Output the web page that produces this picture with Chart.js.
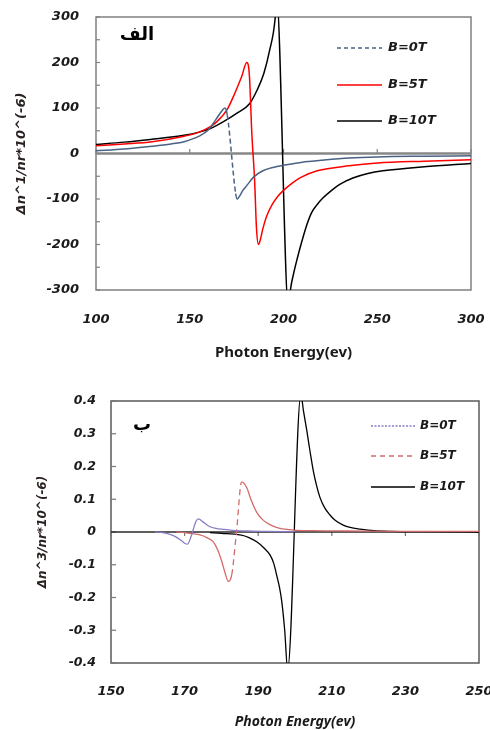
<!DOCTYPE html>
<html><head><meta charset="utf-8">
<script src="https://cdn.jsdelivr.net/npm/chart.js@4.4.0/dist/chart.umd.min.js"></script>
<style>
html,body{margin:0;padding:0;background:#fff;width:490px;height:730px;overflow:hidden}
#c1{position:absolute;left:0;top:0;width:490px;height:370px}
#c2{position:absolute;left:0;top:370px;width:490px;height:360px}
</style></head><body>
<canvas id="c1" width="490" height="370"></canvas>
<canvas id="c2" width="490" height="360"></canvas>
<script>
// ---------- data: top chart (الف) ----------
const topXTicks = [100, 150, 200, 250, 300];
const topYTicks = [-300, -200, -100, 0, 100, 200, 300];
const topYMinor = [-300, -250, -200, -150, -100, -50, 0, 50, 100, 150, 200, 250, 300];
const topLabels = ['B=0T', 'B=5T', 'B=10T'];

const topE0 = [100,115,130,140,147,155,160,164,167,168.8,170,174.5,175.3,176.5,178.5,180.5,184,189,195,200,210,220,235,250,275,300];
const topV0 = [6,10,16,21,26,38,52,75,93,100,85,-88,-100,-94,-80,-70,-52,-38,-30,-26,-19,-15,-10,-7.5,-6,-5];

const topE5 = [100,115,130,147,155,161,164.5,170,174,177.7,180.4,181.8,183.1,184.6,185.6,186.6,187.6,189,191,194,197,200,205,209,218,235,250,275,300];
const topV5 = [17,21,26,38,47,59,70,97,132,169,200,172,45,-60,-165,-200,-190,-165,-138,-112,-94,-81,-64,-53,-38,-27,-21,-17,-14];

const topE10 = [100,115,129,147,155,161,168,175,182,186,189.5,192.5,195.5,196.3,202.7,203.7,205.5,207.5,210,212.5,215,218,221,226,230,237,245,253,275,300];
const topV10 = [20,25,31,40,47,55,70,88,110,140,176,225,295,345,-345,-300,-262,-228,-190,-156,-130,-112,-98,-80,-68,-54,-44,-38,-29,-22];

// ---------- data: bottom chart (ب) ----------
const botXTicks = [150, 170, 190, 210, 230, 250];
const botYTicks = [-0.4, -0.3, -0.2, -0.1, 0, 0.1, 0.2, 0.3, 0.4];
const botLabels = ['B=0T', 'B=5T', 'B=10T'];

const botE0 = [162,164,166,167.5,169,170.1,170.8,171.8,173.1,173.8,175,176.9,178.5,180.5,183,187,192,200];
const botV0 = [0,-0.002,-0.007,-0.014,-0.025,-0.035,-0.037,-0.012,0.033,0.040,0.031,0.016,0.011,0.008,0.005,0.003,0.002,0.001];

const botE5 = [167.8,170,172,174.2,176,177.8,179,180.1,181,181.9,182.8,184.1,185.5,186.9,188,189.6,191,192.3,194,195.9,199.5,205,215,230,250];
const botV5 = [0,-0.002,-0.005,-0.009,-0.017,-0.03,-0.055,-0.09,-0.125,-0.151,-0.131,0,0.153,0.135,0.1,0.06,0.04,0.028,0.018,0.011,0.006,0.004,0.003,0.002,0.002];

const botE10 = [176.9,180,185.1,187.5,189.6,191.5,193.2,194.2,195,195.8,196.4,197.2,198,201.6,202.3,203.2,204.1,205,205.9,206.8,208,209.5,211,213.1,215,217.7,221.5,226,235,250];
const botV10 = [-0.002,-0.004,-0.009,-0.017,-0.03,-0.048,-0.07,-0.095,-0.131,-0.17,-0.212,-0.3,-0.42,0.42,0.37,0.31,0.245,0.185,0.14,0.105,0.075,0.052,0.035,0.021,0.014,0.009,0.004,0.002,0.001,0];

// ---------- helpers ----------
const pts = (E, V) => E.map((e, i) => ({x: e, y: V[i]}));
const dashSteep = (pattern, thr) => ctx => (Math.abs(ctx.p1.y - ctx.p0.y) > thr ? pattern : undefined);
const TXT = '#1a1a1a';
const tickFont = (s) => ({family: 'DejaVu Sans', size: s, weight: 'bold', style: 'italic'});

const deco = {
  id: 'deco',
  beforeDatasetsDraw(chart, args, o) {
    const {ctx, chartArea: a, scales: {x, y}} = chart;
    ctx.save();
    const y0 = y.getPixelForValue(0);
    ctx.strokeStyle = o.frameColor; ctx.lineWidth = o.frameWidth;
    ctx.strokeRect(a.left, a.top, a.right - a.left, a.bottom - a.top);
    ctx.strokeStyle = o.tickColor; ctx.lineWidth = 1.2;
    o.yMarks.forEach(v => {
      const py = y.getPixelForValue(v);
      ctx.beginPath(); ctx.moveTo(a.left, py); ctx.lineTo(a.left + o.yTickLen, py); ctx.stroke();
    });
    x.ticks.forEach(t => {
      const px = x.getPixelForValue(t.value);
      ctx.beginPath(); ctx.moveTo(px, y0); ctx.lineTo(px, y0 + o.xTickDir * o.xTickLen); ctx.stroke();
    });
    ctx.strokeStyle = o.zeroColor; ctx.lineWidth = o.zeroWidth;
    ctx.beginPath(); ctx.moveTo(a.left, y0); ctx.lineTo(a.right, y0); ctx.stroke();
    ctx.restore();
  },
  afterDatasetsDraw(chart, args, o) {
    const {ctx} = chart;
    ctx.save();
    chart.data.datasets.forEach((ds, i) => {
      const yy = o.legendY[i];
      ctx.strokeStyle = ds.borderColor; ctx.lineWidth = ds.borderWidth;
      ctx.setLineDash(ds.legendDash || []);
      ctx.beginPath(); ctx.moveTo(o.legendX1, yy); ctx.lineTo(o.legendX2, yy); ctx.stroke();
      ctx.setLineDash([]);
      ctx.fillStyle = TXT; ctx.font = o.legendFont;
      ctx.textAlign = 'left'; ctx.textBaseline = 'middle';
      ctx.fillText(ds.label, o.legendTextX, yy);
    });
    ctx.fillStyle = '#000'; ctx.font = o.noteFont;
    ctx.textAlign = 'center'; ctx.textBaseline = 'middle';
    ctx.fillText(o.note, o.noteX, o.noteY);
    ctx.restore();
  }
};

function makeChart(id, cfg) {
  return new Chart(document.getElementById(id), {
    type: 'line',
    data: {datasets: cfg.datasets},
    plugins: [deco],
    options: {
      responsive: false, animation: false, devicePixelRatio: 1,
      layout: {padding: cfg.padding},
      elements: {point: {radius: 0, hoverRadius: 0}, line: {cubicInterpolationMode: 'monotone', fill: false}},
      plugins: {legend: {display: false}, tooltip: {enabled: false}, deco: cfg.deco},
      scales: {
        x: {
          type: 'linear', min: cfg.xMin, max: cfg.xMax,
          afterBuildTicks: s => { s.ticks = cfg.xTicks.map(v => ({value: v})); },
          grid: {display: false, drawTicks: false}, border: {display: false},
          ticks: {padding: cfg.xPad, color: TXT, font: tickFont(cfg.xFont), maxRotation: 0, autoSkip: false},
          title: {display: true, text: 'Photon Energy(ev)', color: TXT, font: cfg.xTitleFont, padding: {top: 0, bottom: cfg.xTitlePad}},
          afterFit: s => { s.height = cfg.xHeight; s.paddingLeft = 0; s.paddingRight = 0; }
        },
        y: {
          type: 'linear', min: cfg.yMin, max: cfg.yMax,
          afterBuildTicks: s => { s.ticks = cfg.yTicks.map(v => ({value: v})); },
          grid: {display: false, drawTicks: false}, border: {display: false},
          ticks: {padding: cfg.yPad, color: TXT, font: tickFont(cfg.yFont), autoSkip: false},
          title: {display: true, text: cfg.yTitle, color: '#2a2220', font: {family: 'DejaVu Sans', size: cfg.yTitleSize, weight: 'bold', style: 'italic'}, padding: {top: cfg.yTitlePad, bottom: 0}},
          afterFit: s => { s.width = cfg.yWidth; s.paddingTop = 0; s.paddingBottom = 0; }
        }
      }
    }
  });
}

makeChart('c1', {
  xMin: 100, xMax: 300, yMin: -300, yMax: 300, xTicks: topXTicks, yTicks: topYTicks,
  padding: {top: 17, right: 19, left: 0, bottom: 0},
  xHeight: 80, yWidth: 96, xPad: 22, yPad: 17, xFont: 13, yFont: 13,
  xTitleFont: {family: 'Noto Sans', size: 15, weight: 'bold'}, xTitlePad: 8,
  yTitle: 'Δn^1/nr*10^(-6)', yTitleSize: 13, yTitlePad: 14,
  deco: {frameColor: '#808080', frameWidth: 1.5, tickColor: '#808080', yMarks: topYMinor, yTickLen: 4,
         xTickDir: -1, xTickLen: 4.5, zeroColor: '#878787', zeroWidth: 2.5,
         legendY: [48, 85, 121], legendX1: 337, legendX2: 382, legendTextX: 388,
         legendFont: 'italic bold 13px "DejaVu Sans"', note: 'الف', noteX: 137, noteY: 35,
         noteFont: 'bold 18px "DejaVu Sans"'},
  datasets: [
    {label: topLabels[0], data: pts(topE0, topV0), borderColor: '#4a6184', borderWidth: 1.5, legendDash: [4, 3],
     segment: {borderDash: dashSteep([5, 3], 25)}},
    {label: topLabels[1], data: pts(topE5, topV5), borderColor: '#ff0000', borderWidth: 1.5},
    {label: topLabels[2], data: pts(topE10, topV10), borderColor: '#000000', borderWidth: 1.5}
  ]
});

makeChart('c2', {
  xMin: 150, xMax: 250, yMin: -0.4, yMax: 0.4, xTicks: botXTicks, yTicks: botYTicks,
  padding: {top: 31, right: 11, left: 0, bottom: 0},
  xHeight: 67, yWidth: 111, xPad: 21, yPad: 15, xFont: 13, yFont: 12.5,
  xTitleFont: {family: 'Noto Sans', size: 14, weight: 'bold', style: 'italic'}, xTitlePad: 0,
  yTitle: 'Δn^3/nr*10^(-6)', yTitleSize: 12, yTitlePad: 36,
  deco: {frameColor: '#5a5a5a', frameWidth: 1.5, tickColor: '#777777', yMarks: botYTicks, yTickLen: 5,
         xTickDir: 1, xTickLen: 4, zeroColor: '#2a2a2a', zeroWidth: 1.5,
         legendY: [56, 86, 117], legendX1: 371, legendX2: 415, legendTextX: 420,
         legendFont: 'italic bold 12px "DejaVu Sans"', note: 'ب', noteX: 142, noteY: 55,
         noteFont: 'bold 18px "DejaVu Sans"'},
  datasets: [
    {label: botLabels[0], data: pts(botE0, botV0), borderColor: '#8c7cc4', borderWidth: 1.3, legendDash: [2, 1.5]},
    {label: botLabels[1], data: pts(botE5, botV5), borderColor: '#d46a6a', borderWidth: 1.3, legendDash: [5, 4],
     segment: {borderDash: dashSteep([6, 4], 25)}},
    {label: botLabels[2], data: pts(botE10, botV10), borderColor: '#000000', borderWidth: 1.3}
  ]
});
</script>
</body></html>
